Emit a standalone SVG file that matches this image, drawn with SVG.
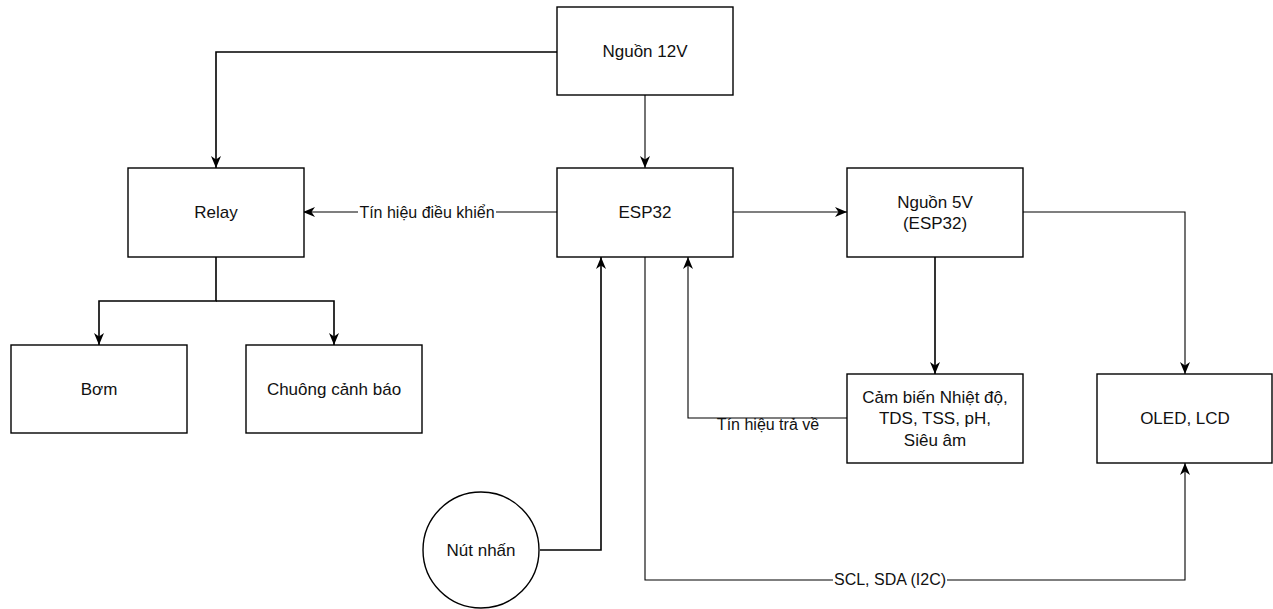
<svg xmlns="http://www.w3.org/2000/svg" width="1273" height="609" viewBox="0 0 1273 609">
<style>
.box{fill:#fff;stroke:#000;stroke-width:1.4}
.lbl{font-family:"Liberation Sans",Arial,sans-serif;font-size:17px;fill:#111;text-anchor:middle}
.elbl{font-family:"Liberation Sans",Arial,sans-serif;font-size:16px;fill:#111;text-anchor:middle}
.c{fill:none;stroke:#000;stroke-width:1.1}
.ct{fill:none;stroke:#000;stroke-width:1.6}
</style>
<defs>
<marker id="arr" viewBox="0 0 12 10" refX="12" refY="5" markerWidth="12" markerHeight="10" markerUnits="userSpaceOnUse" orient="auto">
<path d="M0,0 L12,5 L0,10 L3.5,5 z" fill="#000"/>
</marker>
</defs>
<rect width="1273" height="609" fill="#fff"/>
<g id="connectors">
<path class="ct" d="M557,52 H216 V168" marker-end="url(#arr)"/>
<path class="c" d="M645,95 V168" marker-end="url(#arr)"/>
<path class="c" d="M557,212 H303" marker-end="url(#arr)"/>
<path class="ct" d="M216,257 V301 H99 V345" marker-end="url(#arr)"/>
<path class="ct" d="M216,301 H334 V345" marker-end="url(#arr)"/>
<path class="c" d="M733,212 H847" marker-end="url(#arr)"/>
<path class="c" d="M1022,212 H1185 V374" marker-end="url(#arr)"/>
<path class="ct" d="M935,257 V374" marker-end="url(#arr)"/>
<path class="c" d="M847,418 H688 V257" marker-end="url(#arr)"/>
<path class="ct" d="M540,550 H601 V257" marker-end="url(#arr)"/>
<path class="c" d="M645,257 V580 H1185 V463" marker-end="url(#arr)"/>
<rect x="358" y="202" width="138" height="20" fill="#fff"/>
<text class="elbl" x="427" y="218">Tín hiệu điều khiển</text>
<rect x="717" y="419" width="103" height="17" fill="#fff"/>
<text class="elbl" x="768" y="430">Tín hiệu trả về</text>
<rect x="833" y="570" width="114" height="20" fill="#fff"/>
<text class="elbl" x="890" y="585">SCL, SDA (I2C)</text>
</g>
<g id="nguon12v"><rect class="box" x="557" y="7" width="176" height="88"/><text class="lbl" x="645" y="57">Nguồn 12V</text></g>
<g id="esp32"><rect class="box" x="557" y="168" width="176" height="89"/><text class="lbl" x="645" y="218">ESP32</text></g>
<g id="relay"><rect class="box" x="128" y="168" width="176" height="89"/><text class="lbl" x="216" y="218">Relay</text></g>
<g id="nguon5v"><rect class="box" x="847" y="168" width="176" height="89"/><text class="lbl" x="935" y="208">Nguồn 5V</text><text class="lbl" x="935" y="229">(ESP32)</text></g>
<g id="bom"><rect class="box" x="11" y="345" width="176" height="88"/><text class="lbl" x="99" y="395">Bơm</text></g>
<g id="chuong"><rect class="box" x="246" y="345" width="176" height="88"/><text class="lbl" x="334" y="395">Chuông cảnh báo</text></g>
<g id="cambien"><rect class="box" x="847" y="374" width="176" height="89"/><text class="lbl" x="935" y="403">Cảm biến Nhiệt độ,</text><text class="lbl" x="935" y="424">TDS, TSS, pH,</text><text class="lbl" x="935" y="446">Siêu âm</text></g>
<g id="oled"><rect class="box" x="1097" y="374" width="175" height="89"/><text class="lbl" x="1185" y="424">OLED, LCD</text></g>
<g id="nutnhan"><circle class="box" cx="481" cy="550" r="58"/><text class="lbl" x="481" y="556">Nút nhấn</text></g>
</svg>
